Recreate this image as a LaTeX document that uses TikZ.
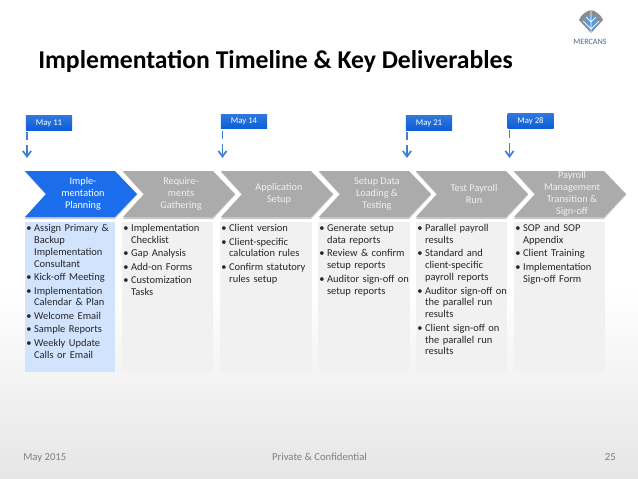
\documentclass[tikz,border=0pt]{standalone}
\usepackage{fontspec}
\setmainfont{Carlito}
\usetikzlibrary{arrows.meta}
\definecolor{stepblue}{HTML}{1C6DEB}
\definecolor{stepgray}{HTML}{ABABAB}
\definecolor{boxblue}{HTML}{D2E3FD}
\definecolor{boxgray}{HTML}{F1F1F1}
\definecolor{dateblue}{HTML}{0B5FD8}
\definecolor{arrowblue}{HTML}{3F7FD0}
\definecolor{logoblue}{HTML}{5B9BD5}
\definecolor{footgray}{HTML}{7F7F7F}
\definecolor{listink}{HTML}{26262B}
\newcommand{\bitem}[1]{\par\hangindent=5.6pt\hangafter=1\noindent\makebox[5.6pt][l]{\textbullet}#1\par}
\tikzset{
  datebox/.style={minimum width=1.15cm,minimum height=0.36cm,inner sep=0pt,text=white,
    top color=dateblue!85!white,bottom color=dateblue,font=\fontsize{6.2}{7}\selectfont},
  datearrow/.style={draw=arrowblue,line width=1.2pt,dash pattern=on 5.7pt off 3.5pt on 12pt,-{Straight Barb[length=4pt,width=5.8pt]}},
  steptext/.style={align=center,font=\fontsize{7.3}{8.5}\selectfont},
  listbox/.style={anchor=north west,minimum height=3.75cm,inner sep=0pt},
  listtext/.style={anchor=north west,text width=2.3cm,inner xsep=0.7pt,inner ysep=0.9pt,align=left,text=listink,
    font=\fontsize{7.45}{8.4}\selectfont},
  foottext/.style={text=footgray,inner sep=0pt,font=\fontsize{7.6}{9}\selectfont}
}
\begin{document}
\begin{tikzpicture}[x=0.025cm,y=-0.025cm]
\useasboundingbox (0,0) rectangle (638,479);
% Background
\fill[white] (0,0) rectangle (638,290);
\shade[top color=white,bottom color=black!10] (0,290) rectangle (638,479);

% Title
\node[anchor=west,inner sep=0pt,font=\bfseries\fontsize{18.25}{21}\selectfont] (title) at (38,61) {Implementation Timeline \& Key Deliverables};

% Logo
\fill[black!45] (591,10) .. controls (596,11) and (601,15) .. (603,20) -- (591,33) -- (579,20) .. controls (581,15) and (586,11) .. (591,10);
\fill[logoblue] (591,13) -- (599,21) -- (591,33) -- (583,21) -- cycle;
\draw[white,line width=0.5pt] (591,10) -- (591,33) (583,21) -- (591,29) -- (599,21) (586,17) -- (591,22) -- (596,17);
\node[inner sep=0pt,text=logoblue!70!black,font=\fontsize{5.8}{6}\selectfont] (logo) at (590,42) {MERCANS};

% Steps
\foreach \n/\cx/\cfill/\ccol/\ctext in {
  1/25/stepblue/white/{Imple-\\mentation\\Planning},
  2/123/stepgray/black!6/{Require-\\ments\\Gathering},
  3/221/stepgray/black!6/{Application\\Setup},
  4/319/stepgray/black!6/{Setup Data\\Loading \&\\Testing},
  5/416/stepgray/black!6/{Test Payroll\\Run},
  6/514/stepgray/black!6/{Payroll\\Management\\Transition \&\\Sign-off}}{
  \fill[black!35,opacity=0.6] (\cx,172) -- ++(90,0) -- ++(22,23) -- ++(-22,24) -- ++(-90,0) -- ++(21,-24) -- cycle;
  \fill[\cfill] (\cx,171) -- ++(90,0) -- ++(22,23) -- ++(-22,23) -- ++(-90,0) -- ++(21,-23) -- cycle;
  \node[steptext,text=\ccol] (s\n) at (\cx+58,194) {\ctext};
}

% Lists
\foreach \n/\bx/\bw/\bfill/\btext in {
  1/25/90/boxblue/{\bitem{Assign Primary \&\newline Backup\newline Implementation\newline Consultant}\bitem{Kick-off Meeting}\bitem{Implementation\newline Calendar \& Plan}\bitem{Welcome Email}\bitem{Sample Reports}\bitem{Weekly Update\newline Calls or Email}},
  2/122/91/boxgray/{\bitem{Implementation\newline Checklist}\bitem{Gap Analysis}\bitem{Add-on Forms}\bitem{Customization\newline Tasks}},
  3/220/92/boxgray/{\bitem{Client version}\bitem{Client-specific\newline calculation rules}\bitem{Confirm statutory\newline rules setup}},
  4/318/92/boxgray/{\bitem{Generate setup\newline data reports}\bitem{Review \& confirm\newline setup reports}\bitem{Auditor sign-off on\newline setup reports}},
  5/416/91/boxgray/{\bitem{Parallel payroll\newline results}\bitem{Standard and\newline client-specific\newline payroll reports}\bitem{Auditor sign-off on\newline the parallel run\newline results}\bitem{Client sign-off on\newline the parallel run\newline results}},
  6/514/91/boxgray/{\bitem{SOP and SOP\newline Appendix}\bitem{Client Training}\bitem{Implementation\newline Sign-off Form}}}{
  \node[listbox,fill=\bfill,minimum width=\bw*0.025cm] (b\n) at (\bx,222) {};
  \node[listtext] (t\n) at ([yshift=0.135cm]b\n.north west) {\setlength{\parskip}{1.2pt}\btext};
}

% Dates
\foreach \n/\dx/\dy/\ax/\dtext in {1/49/123/27/May 11,2/244/121.5/222.5/May 14,3/429/123/407/May 21,4/530.5/121/509.5/May 28}{
  \node[datebox] (d\n) at (\dx,\dy) {\dtext};
  \coordinate (e\n) at (\ax,158);
  \draw[datearrow] (d\n.south -| e\n) ++(0,2) -- (e\n);
}

% Footer
\node[foottext,anchor=base west] (f1) at (23,460) {May 2015};
\node[foottext,anchor=base] (f2) at (319.5,460) {Private \& Confidential};
\node[foottext,anchor=base east] (f3) at (616,460) {25};
\end{tikzpicture}
\end{document}
